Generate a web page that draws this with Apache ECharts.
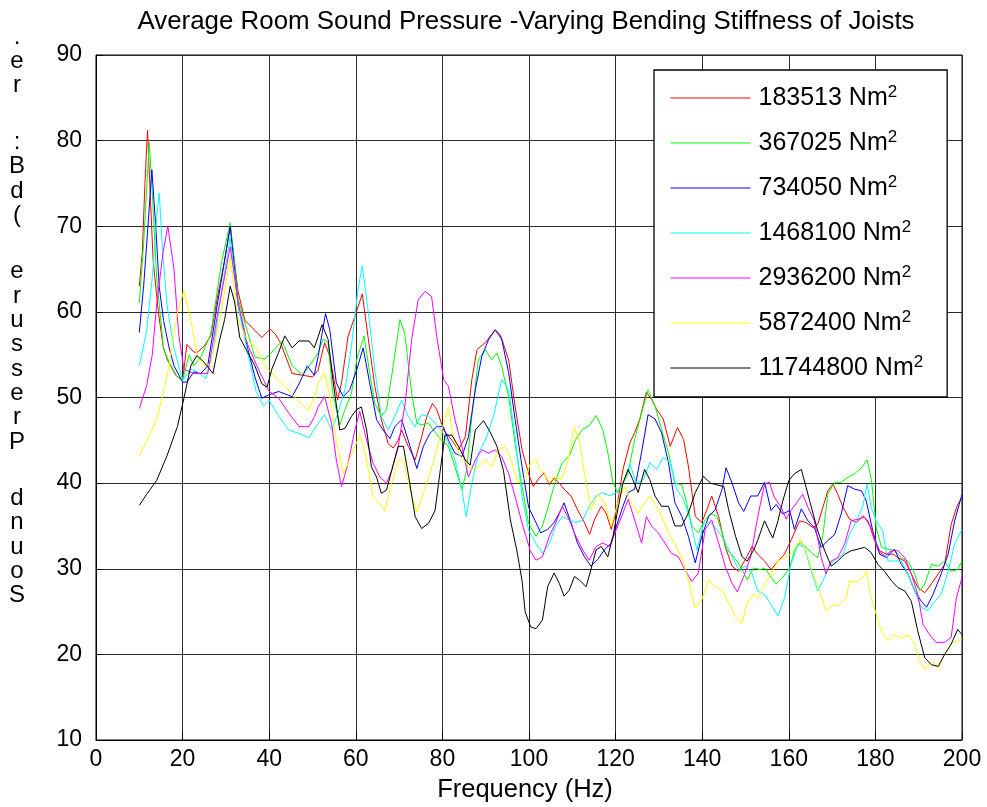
<!DOCTYPE html>
<html><head><meta charset="utf-8">
<script src="https://cdn.jsdelivr.net/npm/echarts@6/dist/echarts.min.js"></script>
<style>html,body{margin:0;padding:0;background:#fff}#c{width:987px;height:807px}</style>
</head><body><div id="c"></div><script>
// Legend labels (bending stiffness, Nm^2)
const stiffness = ['183513','367025','734050','1468100','2936200','5872400','11744800'];
const colors = ['#ff0000','#00ff00','#0000ff','#00ffff','#ff00ff','#ffff00','#000000'];
const xTicks = {min:0, max:200, step:20};
const yTicks = {min:10, max:90, step:10};

// [frequency Hz, level dB]
const red = [[10,63],[10.7,67],[11.3,75],[11.9,81.2],[12.5,74],[13.2,66],[14.4,60],[15.5,56],[16.4,54.5],[18.4,52.6],[20,52],[21,56.2],[22.6,55.3],[23.4,55.3],[25,56],[26.5,57.2],[28,61.6],[29.7,66],[31,70],[32.8,62.4],[34.4,59],[36,58.2],[38.3,57],[40.2,58],[41.4,57.4],[42.6,56.4],[45.3,52.8],[47.7,52.6],[50,52.4],[51.3,53.2],[52.8,56.4],[54,54.8],[55.1,51.7],[55.8,49.7],[56.7,51.7],[58.2,57.1],[59.8,59.5],[61.5,62.1],[62.9,56.8],[64.4,51.3],[65.9,47.4],[67.5,44.6],[68.6,44.1],[69.8,45],[70.6,46.2],[72.1,44.3],[73.7,42.7],[75.2,45.4],[76.4,47.8],[77.7,49.3],[78.7,48.6],[80.3,46.2],[82.2,45],[83.7,43.9],[85.3,45.4],[86.8,52.1],[88,55.6],[89.9,56.4],[92.2,57.9],[93.4,57.3],[95.3,54.4],[96.8,48.9],[98.4,43.9],[99.9,41.1],[101,39.6],[102.2,40.5],[103.5,41.2],[104.7,39.8],[105.8,40.6],[107,40],[108.1,39.3],[109.7,38.5],[111.2,36.9],[112.8,35.4],[114,34],[115.1,35.7],[116.7,37.3],[117.8,36.5],[119,34.6],[120.2,36.9],[121.7,41.6],[123.3,44.7],[124.4,45.9],[125.6,47.5],[127.1,50.6],[128.3,49.8],[129.5,48.6],[131,47.5],[132.6,44.3],[134.3,46.5],[135.7,45.1],[136.8,42],[138.4,36.1],[139.9,35.4],[141.1,36.9],[142.2,38.5],[143.8,36.1],[145.3,32.6],[146.9,30.3],[148.4,29.7],[150,31.1],[151.5,32.6],[152.8,31.7],[154.4,30.9],[155.9,29.9],[157.5,30.9],[159,31.7],[160.5,33.3],[162.5,35.6],[164,35.4],[165.6,34.8],[166.7,35.2],[167.9,37.2],[169,39.1],[170.2,39.9],[171.3,38.7],[172.5,37.2],[174,35.8],[175.6,35.4],[177.1,36.2],[178.3,35.6],[179.8,33.3],[181,32.1],[182.5,31.7],[184.1,31.7],[185.2,31.3],[186.8,30.9],[188.3,29.4],[189.8,27.8],[191.4,27.2],[192.9,28.2],[194.5,29.4],[196,30.5],[197.5,35.2],[199,37.5],[200,38.3]];
const green = [[10,61],[11,68],[12.3,79.8],[13,74],[14,64],[15.6,55.7],[17,54],[18.8,52.4],[20,52],[21.5,55],[22.6,53.7],[24.2,54.7],[26.5,57.4],[29,65.8],[31,70.4],[32.8,61.6],[34.4,58.7],[36.7,54.7],[39,54.5],[40.6,55.3],[43,56.6],[45.3,53.7],[47.7,52.6],[49.7,54],[51.3,55.2],[52.4,56.8],[53.6,56.4],[54.7,50.5],[56.3,46.8],[57.5,48.6],[59,50.5],[60.2,54.4],[61.9,57.2],[63.2,52.9],[64.4,49.3],[65.9,47.8],[67.1,48.6],[68.6,53.6],[70.2,59.1],[71.3,57.5],[72.9,50.5],[74.1,47],[75.2,46.8],[76.8,47],[77.9,46.2],[79.8,45],[81.4,44.3],[82.9,41.9],[84.5,39.2],[85.6,41.5],[86.8,47.8],[88.3,54.4],[89.9,55.6],[91.4,54.4],[92.6,55.2],[93.7,53.6],[95.3,50.1],[96.8,44.6],[98.4,39.6],[99.9,35.3],[101.6,33.8],[103.1,35],[104.7,37.7],[106.2,40.4],[107.7,42.4],[109.3,43.2],[110.8,45.1],[112.4,46.3],[113.9,46.7],[115.5,47.9],[117,46.3],[118.2,43.6],[119.4,40],[120.5,38.9],[121.7,40],[122.9,41.2],[124.4,45.1],[126,48.2],[127.5,50.9],[129.1,49],[130.6,46.3],[132.2,43.6],[133.7,40],[135.3,39.8],[136.4,37.7],[137.6,35],[139.1,34.2],[140.3,35.4],[141.9,36.5],[143.4,36.1],[144.6,34.2],[145.7,32.2],[147.3,31.4],[148.8,30.3],[150.4,28.7],[151.9,30.1],[153.5,29.9],[154.4,30.1],[155.9,29],[157.1,28.2],[158.6,29],[160.2,30.1],[161.3,32.1],[162.7,33.1],[164,32.5],[165.6,31.7],[166.7,31.3],[167.9,34],[169,38.7],[170.6,40.1],[172.1,40.1],[173.7,40.7],[175.2,41.1],[176.8,41.8],[178.1,42.7],[179.1,40.3],[180.2,34.8],[181.4,32.5],[182.9,32.3],[184.4,32.1],[186,31.3],[187.5,30.9],[189.1,29.4],[190.2,27.4],[191.4,28.2],[192.9,30.5],[194.5,30.3],[196,30.9],[197.5,29.7],[199,29.9],[200,30.9]];
const blue = [[10,57.6],[11,63],[12,70],[12.9,76.6],[13.8,70],[14.6,63],[15.6,59],[16.8,56],[18,53.7],[20,51.8],[21,51.8],[22.6,53],[24.2,52.8],[25.8,53.7],[28,60.8],[31,70],[32.8,60.8],[35,55.8],[36.7,52.4],[38.3,49.9],[39.8,50.3],[42.2,50.7],[45.3,50.1],[46.9,51.6],[48.8,53.7],[50.4,52.6],[51.3,54.8],[53,59.8],[54,57.9],[55.5,51.7],[57.1,50.1],[58.6,50.9],[60.2,53.2],[61.7,55.8],[63.2,51.7],[64.8,47.4],[66.3,46.2],[67.9,45.2],[69,46.6],[70.6,47.4],[72.1,45],[74.1,41.7],[75.6,44.3],[77.1,45.8],[78.7,46.6],[80.2,46.6],[81.4,45],[82.9,43.5],[84.5,43.1],[86,45.4],[87.6,50.9],[89.1,54.8],[90.7,56.8],[92.2,57.9],[93.7,56.8],[95.3,52.9],[96.8,47.4],[98.4,41.9],[99.9,37.2],[101.6,35.4],[102.7,34.2],[104.3,34.6],[105.8,35.4],[107.4,36.9],[108.1,37.7],[109.7,35.4],[111.2,33],[112.8,31.4],[114.3,30.3],[115.9,31.1],[117.4,32.2],[119,33],[120.2,35],[121.7,37.3],[122.9,38.9],[124.4,39.3],[126,43.6],[127.5,48],[129.1,47.5],[130.6,45.9],[132.2,42.4],[133.7,37.7],[135.3,36.1],[136.8,33.8],[138.4,30.7],[139.9,33.8],[141.5,36.1],[143,36.9],[144.6,39.3],[145.5,41.8],[146.9,40],[148.4,37.7],[149.6,36.7],[151.2,38.5],[152.8,38.5],[154.4,40.1],[155.9,36.8],[157.1,37.5],[158.6,36.4],[160.2,36.8],[161.3,34.6],[162.9,37],[164.4,35.6],[165.9,34.8],[167.5,32.5],[169,33.3],[170.6,34],[172.1,36.4],[173.6,39.7],[175.2,39.3],[176.8,39.1],[177.9,37.9],[179.4,34.4],[181,31.7],[182.5,31.3],[184.4,32.3],[186,30.5],[187.5,29.4],[189.1,27.4],[190.6,26.2],[191.8,25.5],[193.3,27],[195.2,29.4],[196.8,31.7],[198.3,35.6],[200,38.7]];
const cyan = [[10,53.7],[11.7,57.8],[13,64],[14,71],[14.6,73.9],[15.4,67],[16.4,60.8],[18,55.8],[20,52],[21.9,53.3],[23.4,53],[25.4,52.2],[27,55.3],[29,62.4],[31,68.7],[32.8,60.8],[35,55.3],[37,50.7],[38.7,49],[40,49.7],[42.2,47.8],[44.5,46.2],[46.9,45.8],[49.2,45.3],[51.3,47],[52.8,48],[54.4,46.2],[55.9,48.2],[57.5,50.9],[59,56],[60.5,62.6],[61.5,65.4],[62.9,59.9],[64.4,53.2],[65.9,47.8],[67.5,46.2],[69,47.8],[70.6,49.7],[72.1,47.8],[73.7,46.6],[75.2,48],[76.8,47.8],[78.3,47],[79.8,46.2],[81.4,44.6],[82.9,42.7],[84.5,39.2],[85.5,36.1],[86.8,40],[88.3,43.5],[89.9,45],[91.8,47.8],[93.7,52.1],[95.3,50.9],[96.8,45.4],[98.4,38.4],[99.9,34.5],[101.6,33],[103.1,31.8],[104.7,33],[106.2,35],[107.7,36.1],[109.3,35.7],[110.8,35.4],[112.4,35.7],[113.9,37.3],[115.5,38.5],[117,38.9],[118.6,38.5],[120.2,38.9],[121.7,40],[123.3,42.2],[124.8,40],[126.4,40.4],[127.9,42.4],[129.5,41.6],[131,43],[132.6,42.4],[134.1,39.3],[135.7,38.1],[137.2,35.7],[138.8,32.2],[140.3,35.2],[141.9,35.4],[143.4,34.6],[145,33.4],[146.9,31.4],[148.4,29.9],[150,30.3],[151.5,29.5],[152.8,27.4],[154.4,27],[155.9,25.8],[157.5,24.5],[159,26.6],[160.5,30.5],[162.1,32.9],[163.6,32.5],[165.2,29.7],[166.7,27.4],[167.9,28.6],[169.4,30.5],[171,31.1],[172.5,31.7],[174,34],[175.6,35.6],[177.1,37.3],[178.1,39.9],[179,37.2],[180.2,35.6],[181.7,34.4],[182.9,30.9],[184.4,30.9],[186,30.9],[187.5,29.4],[189.1,27.4],[190.6,25.5],[192.2,25.1],[193.7,26.2],[195.2,27],[196.8,29.7],[198.3,32.9],[200,34.6]];
const magenta = [[10,48.7],[11.7,51.4],[13,55],[14,60.8],[15.5,67],[16.6,70],[18,65],[19.1,57.4],[20.3,53.3],[22.6,52.8],[24.2,52.8],[25.8,52.8],[28,59.5],[31,67.6],[32.8,61.2],[35,56.2],[37.5,53.3],[40,50.7],[42.2,49.9],[44.5,48.2],[46.9,46.6],[49.2,46.6],[50.5,47.8],[51.3,48.9],[52.8,50.1],[54.4,47],[55.5,42.7],[56.7,39.6],[58.2,42.3],[59.8,46.2],[60.9,48.4],[62.5,45],[64,42.3],[65.6,40.7],[67.1,40],[68.3,41.5],[69.8,44.3],[71.4,49.3],[72.9,56.8],[74.4,61.4],[76,62.4],[77.5,61.8],[78.7,57.1],[80.3,52.1],[81.4,51.3],[82.9,47.4],[84.5,44.3],[86,40.7],[87.6,42.7],[89.1,43.9],[90.7,43.5],[92.2,43.9],[93.7,43.1],[95.3,41.1],[96.8,38.4],[98.4,35.3],[100.3,32.1],[101.6,31],[103.1,31.4],[104.7,33.8],[106.2,35.4],[107.7,37.3],[109.3,35.7],[110.8,33.8],[112.4,32.2],[113.9,31],[115.5,32.6],[117,33],[118.6,32.6],[120.2,34.6],[121.7,36.5],[122.9,38.1],[124.4,35.7],[126,33],[127.1,36.1],[128.3,35],[129.8,34.2],[131.4,33],[132.9,31.8],[134.5,31.4],[136,29.9],[137.6,28.5],[139.1,29.5],[140.7,34.6],[142.2,35.7],[143.8,33],[145.3,30.3],[146.9,28.3],[148.1,27.3],[149.6,29.1],[151.2,31.4],[152.8,36],[154.4,39.9],[155.5,40.1],[156.7,38.3],[158.2,37.2],[159.4,35.8],[160.5,36.8],[162.1,37.9],[163.2,38.7],[164.4,37.2],[165.9,35.6],[167.5,31.3],[168.6,29.4],[169.8,30.9],[171.3,31.3],[172.9,32.9],[174.4,35.6],[176,35.8],[177.5,36],[179,34.8],[180.6,32.1],[182.1,31.5],[183.7,32.1],[185.2,32.1],[186.8,31.3],[188.3,29.4],[189.8,27],[191,23.5],[192.5,22.3],[194,21.4],[196,21.4],[197.5,22],[198.7,26.6],[200,29]];
const yellow = [[10,43.2],[11.7,44.9],[14,47.4],[16.4,52.4],[18.8,59.9],[20.3,62.5],[21.9,59.1],[23.4,54.9],[25,53.7],[26.5,53.9],[29,60.3],[31,66.4],[32.8,59.1],[35,56.6],[37,55.8],[39,53.7],[41.4,52.4],[43.8,51.2],[46.9,49.5],[49,48.5],[50.5,50],[51.3,51.7],[52.8,52.9],[54,50.1],[55.5,45],[57.1,41.1],[58.2,42.3],[59.8,44.3],[61,45.7],[62.5,42.7],[64,38.4],[65.6,37.6],[66.7,36.8],[68.3,40],[69.8,42.7],[71,42.7],[72.5,39.2],[74.1,36.6],[75.6,38.8],[77.1,41.1],[78.7,43.9],[80.3,47],[81.4,48.9],[82.5,45.4],[84.1,43.1],[85.6,42.3],[86.8,41.5],[88.3,41.9],[89.9,42.7],[91.4,41.9],[93,43.9],[94.5,44.3],[96.1,42.3],[97.6,40],[99.2,40.7],[100.4,42.4],[101.6,42.8],[102.4,41.6],[103.5,41.2],[104.7,40],[105.8,40.8],[107.4,40.4],[108.9,42.4],[110.5,46.5],[111.6,45.1],[112.8,41.2],[114.3,36.9],[115.9,38.7],[117.4,37.7],[119,35],[120.5,37.7],[122.1,39.6],[123.6,37.7],[125.2,36.5],[126.7,37.7],[127.9,38.5],[129.5,37.3],[131,35.7],[132.6,33.8],[134.1,32.6],[135.7,30.7],[137.2,27.9],[138.4,25.4],[139.9,26.4],[141.5,28.7],[143,27.9],[144.6,27.5],[146.1,26],[147.7,24.4],[149.1,23.6],[150.4,26],[151.9,27.1],[152.8,26.6],[154.4,28.2],[155.9,29.4],[157.5,30.9],[159,31.3],[160.5,31.7],[162.7,33.5],[164,32.1],[165.6,29.4],[167.1,27.4],[168.6,25.1],[170.2,25.7],[171.7,25.8],[173.3,26.6],[174,28.6],[175.6,28.4],[177.1,29],[177.9,29.7],[179,26.6],[180.2,24.7],[181.4,22.7],[182.9,21.6],[184.4,22.3],[186,21.9],[187.5,22.3],[189.1,21.2],[190.2,19.2],[191.4,18.2],[192.9,19.2],[194.5,18.4],[196,20],[197.5,21.2],[199,21.6],[200,21.8]];
const black = [[10,37.4],[11.7,38.7],[14,40.3],[16.4,43.2],[18.8,46.6],[20.3,49.9],[21.9,53.7],[23.3,54.9],[25,54.1],[27,52.8],[28.5,56.6],[29.7,59.1],[31,63],[32,61.2],[33.2,57],[35,55.3],[36.7,53.7],[38.3,51.6],[39.5,51.2],[40.6,53.3],[42.2,55.3],[43.6,57.2],[45.3,55.8],[46.9,56.6],[49.2,56.6],[50.4,55.8],[51.3,57.1],[52.2,58.5],[53.6,56.8],[54.7,52.1],[56.3,46.2],[57.5,46.4],[59,47.8],[60.2,48.6],[61.3,48.9],[62.5,46.2],[63.6,41.9],[64.8,40.7],[65.9,38.8],[67.1,39.2],[68.3,41.5],[69.8,44.3],[71,44.3],[72.1,41.1],[73.7,36.1],[75.2,34.7],[76.8,35.3],[78.3,36.8],[79.4,41.1],[80.6,45.6],[82.2,45.6],[83.7,44.3],[85.3,42.7],[86.4,42.1],[87.6,46.2],[89.5,47.3],[91,46],[92.6,44.3],[94.1,41.5],[95.7,35.7],[97.2,32.1],[98.4,28.6],[99.1,25],[100.4,23.2],[101.6,23],[103.1,24],[104.3,27.9],[105.8,29.5],[107,28.3],[108.1,26.8],[109.3,27.5],[110.5,29.1],[111.6,28.7],[113.2,27.9],[114.3,29.9],[115.5,32.2],[116.7,32.6],[118.2,31.4],[119.4,33.8],[120.5,36.9],[121.7,40],[122.9,41.6],[124,40.4],[125.2,38.9],[126.7,41.6],[127.9,40.4],[129.1,38.5],[130.6,37.3],[132.2,37.3],[133.7,35],[135.3,35],[136.8,36.5],[138.4,38.9],[140.3,40.8],[141.9,40],[143.4,39.8],[145,39.6],[146.1,36.9],[147.7,33.8],[149.2,31.4],[150.4,30.9],[151.9,32.2],[152.8,33.3],[154.4,35.6],[155.5,34.4],[156.3,33.6],[157.5,35.6],[158.6,37.9],[160,40.3],[161.3,41.1],[162.9,41.6],[164,39.5],[165.2,37.2],[166.7,34.4],[168.3,32.1],[169.8,30.3],[171.3,30.9],[172.9,31.7],[174.4,32.1],[176,32.3],[177.5,32.5],[179,31.9],[180.6,30.5],[182.1,29.7],[183.7,28.6],[185.2,27.8],[186.8,27.4],[188.3,26.2],[189.8,22.7],[191.4,19.6],[192.9,18.8],[194.5,18.6],[196,20],[197.5,21.2],[199,22.9],[200,22.3]];

const seriesData = [red, green, blue, cyan, magenta, yellow, black];
const titleText = 'Average Room Sound Pressure -Varying Bending Stiffness of Joists';
const xName = 'Frequency (Hz)';
const yName = 'Sound Pressure (dB: re.';

const FONT = '"Liberation Sans", Arial, Helvetica, sans-serif';
const chart = echarts.init(document.getElementById('c'), null, {renderer: 'canvas'});

const yRich = yName.split('').reverse().map(c => c === ' ' ? '{g| }' : '{c|' + c + '}').join('\n');

const axisCommon = {
  axisLine: {show: true, lineStyle: {color: '#000', width: 1}},
  axisTick: {show: true, inside: true, length: 7, lineStyle: {color: '#000'}},
  splitLine: {show: true, lineStyle: {color: '#2a2a2a', width: 1}}
};

chart.setOption({
  animation: false,
  backgroundColor: '#fff',
  grid: {left: 96, right: 25, top: 55, bottom: 67, show: true, borderColor: '#000', borderWidth: 1},
  xAxis: Object.assign({type: 'value', min: xTicks.min, max: xTicks.max, interval: xTicks.step,
    axisLabel: {fontSize: 23, color: '#000', margin: 8, fontFamily: FONT}}, axisCommon),
  yAxis: Object.assign({type: 'value', min: yTicks.min, max: yTicks.max, interval: yTicks.step,
    axisLabel: {fontSize: 23, color: '#000', margin: 14, fontFamily: FONT}}, axisCommon),
  legend: {
    orient: 'vertical', left: 654, top: 70, padding: [14, 24, 15, 16],
    itemWidth: 80, itemHeight: 28, itemGap: 17,
    itemStyle: {opacity: 0},
    lineStyle: {width: 1},
    borderColor: '#000', borderWidth: 1.3, backgroundColor: '#fff',
    selectedMode: false,
    data: stiffness,
    formatter: n => '{a|' + n + ' Nm}{s|2}',
    textStyle: {height: 28, lineHeight: 28, rich: {
      a: {fontSize: 25, lineHeight: 28, fontFamily: FONT, color: '#000', padding: [0, 0, 0, 3]},
      s: {fontSize: 17, lineHeight: 17, verticalAlign: 'top', fontFamily: FONT, color: '#000'}
    }}
  },
  graphic: [
    {type: 'text', x: 526, y: 22, silent: true,
      style: {text: titleText, fontSize: 25.9, fontFamily: FONT, fill: '#000', align: 'center', verticalAlign: 'middle'}},
    {type: 'text', x: 525, y: 790, silent: true,
      style: {text: xName, fontSize: 25.5, fontFamily: FONT, fill: '#000', align: 'center', verticalAlign: 'middle'}},
    {type: 'text', x: 17, y: 25, silent: true,
      style: {text: yRich, align: 'center', verticalAlign: 'top', fill: '#000',
        rich: {c: {fontSize: 24, lineHeight: 24.3, fontFamily: FONT, fill: '#000', align: 'center'},
               g: {fontSize: 24, lineHeight: 32.3, fontFamily: FONT, align: 'center'}}}}
  ],
  series: seriesData.map((d, i) => ({
    type: 'line', name: stiffness[i], data: d, symbol: 'none', showSymbol: false,
    lineStyle: {width: 1, color: colors[i]}, itemStyle: {color: colors[i]}, silent: true
  }))
});
</script></body></html>
